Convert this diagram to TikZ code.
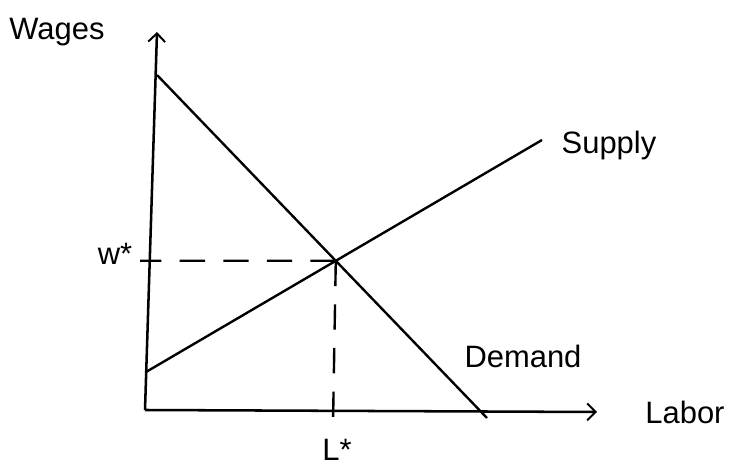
\documentclass[tikz,border=0pt]{standalone}
\usepackage{fontspec}
\setmainfont{Liberation Sans}
\usetikzlibrary{arrows.meta}
\begin{document}
\begin{tikzpicture}[font=\fontsize{22}{25}\selectfont,
  axis/.style={line width=1.8pt, -{Straight Barb[length=6pt, width=12pt, line width=1.4pt]}},
  curve/.style={line width=1.7pt},
  guide/.style={line width=1.7pt, dash pattern=on 18pt off 13pt},
  lbl/.style={inner sep=1pt}
]
  \useasboundingbox (-3.625,-1.5) rectangle (14.85,10.25);
  % Axes
  \coordinate (o)    at (0,0);
  \coordinate (ytop) at (0.3,9.45);
  \coordinate (xend) at (11.3,-0.05);
  \draw[axis] (o) -- (ytop);
  \draw[axis] (o) -- (xend);
  % Demand and supply
  \coordinate (d1) at (0.3,8.375);
  \coordinate (d2) at (8.55,-0.2);
  \coordinate (s1) at (0.025,0.95);
  \coordinate (s2) at (9.925,6.75);
  \draw[curve] (d1) -- (d2);
  \draw[curve] (s1) -- (s2);
  \coordinate (eq) at (intersection of d1--d2 and s1--s2);
  % Equilibrium guides
  \coordinate (wtick) at (-0.125,3.73);
  \coordinate (ltick) at (4.7,-0.35);
  \draw[guide] (eq) -- (wtick);
  \draw[guide] (eq) -- (ltick);
  % Labels
  \node[lbl] (wages)  at (-2.2,9.45)  {Wages};
  \node[lbl] (labor)  at (13.5,-0.05) {Labor};
  \node[lbl] (wstar)  at (-0.75,3.9)  {w*};
  \node[lbl] (lstar)  at (4.8,-1.0)   {L*};
  \node[lbl] (supply) at (11.6,6.6)   {Supply};
  \node[lbl] (demand) at (9.45,1.35)  {Demand};
\end{tikzpicture}
\end{document}
